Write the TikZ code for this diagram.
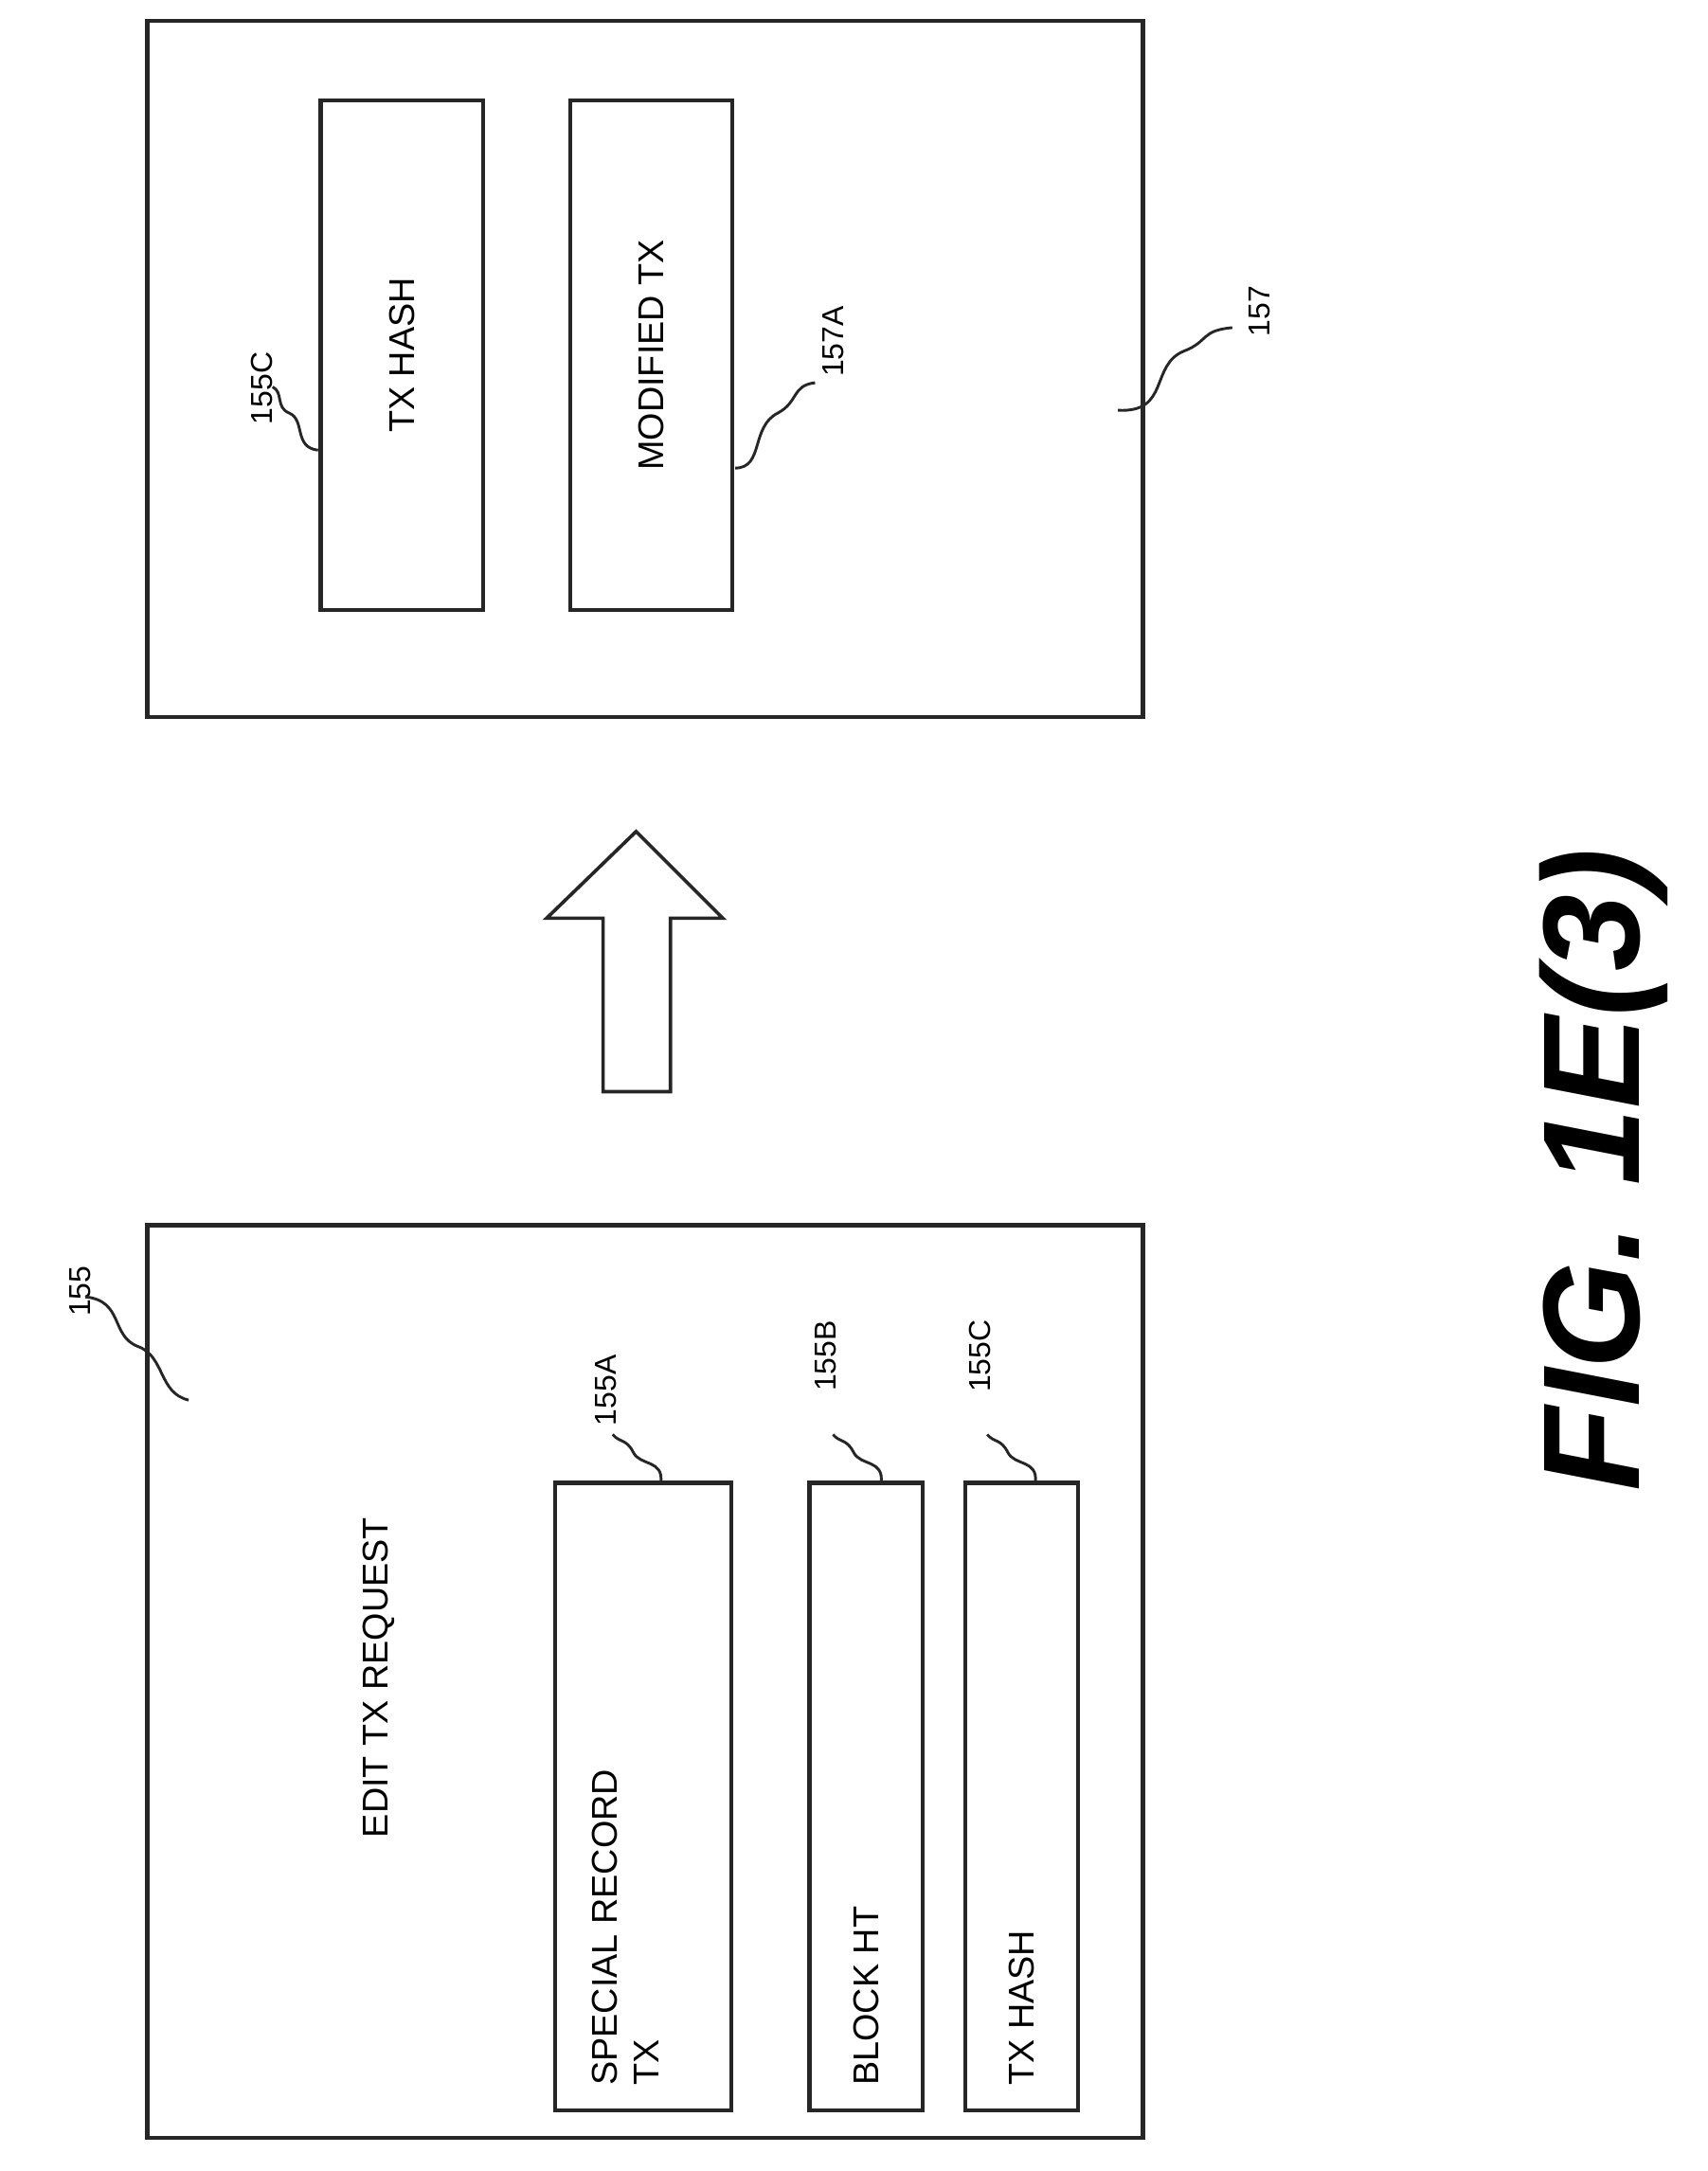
\documentclass[tikz,border=0pt]{standalone}
\usepackage{fontspec}
\setmainfont{Liberation Sans}
\begin{document}
\begin{tikzpicture}[x=1pt,y=-1pt,
  box/.style={draw=black!85,line width=3pt},
  txt/.style={rotate=90,font=\fontsize{26}{30}\selectfont,inner sep=0},
  lbl/.style={rotate=90,font=\fontsize{22}{26}\selectfont,inner sep=0},
  lead/.style={draw=black!85,line width=2pt}]
\useasboundingbox (0,0) rectangle (1240,1577);
% top box 157
\draw[box] (107,15) rectangle (830,521);
\draw[box] (233,73) rectangle (351,443);
\node[txt] (t1) at (292,258) {TX HASH};
\draw[box] (414,73) rectangle (532,443);
\node[txt] (t2) at (473,258) {MODIFIED TX};
\node[lbl] (l155c) at (190,282) {155C};
\coordinate (a1) at (231,327);
\draw[lead] (a1) .. controls (213,325) and (222,305) .. (210,300) .. controls (200,296) and (206,285) .. (198,281);
\node[lbl] (l157a) at (605,248) {157A};
\coordinate (a2) at (534,340);
\draw[lead] (a2) .. controls (555,340) and (545,310) .. (565,300) .. controls (580,292) and (575,280) .. (592,278);
\node[lbl] (l157) at (915,226) {157};
\coordinate (a3) at (812,298);
\draw[lead] (a3) .. controls (850,300) and (835,265) .. (860,255) .. controls (878,248) and (872,240) .. (895,238);
% arrow
\draw[box,line width=2.5pt] (462,604) -- (525,667) -- (487,667) -- (487,793) -- (438,793) -- (438,667) -- (397,667) -- cycle;
% bottom box 155
\draw[box] (107,890) rectangle (830,1553);
\node[txt,anchor=west] (t3) at (275,1335) {EDIT TX REQUEST};
\draw[box] (403,1077) rectangle (531,1533);
\node[txt,anchor=north west,align=left] (t4) at (430,1515) {SPECIAL RECORD\\TX};
\draw[box] (588,1077) rectangle (670,1533);
\node[txt,anchor=west] (t5) at (629,1515) {BLOCK HT};
\draw[box] (701,1077) rectangle (783,1533);
\node[txt,anchor=west] (t6) at (742,1515) {TX HASH};
\node[lbl] (l155a) at (440,1010) {155A};
\node[lbl] (l155b) at (600,985) {155B};
\node[lbl] (l155c2) at (712,985) {155C};
\draw[lead] (480,1077) .. controls (482,1060) and (465,1065) .. (460,1055) .. controls (455,1045) and (450,1048) .. (445,1042);
\draw[lead] (640,1077) .. controls (642,1060) and (625,1065) .. (620,1055) .. controls (615,1045) and (610,1048) .. (605,1042);
\draw[lead] (752,1077) .. controls (754,1060) and (737,1065) .. (732,1055) .. controls (727,1045) and (722,1048) .. (717,1042);
\node[lbl] (l155) at (58,938) {155};
\draw[lead] (137,1017) .. controls (115,1012) and (120,985) .. (100,978) .. controls (80,970) and (90,945) .. (62,942);
% figure label
\node[rotate=90,font=\fontsize{100}{110}\selectfont\bfseries\itshape,inner sep=0] (fig) at (1165,850) {FIG. 1E(3)};
\end{tikzpicture}
\end{document}
